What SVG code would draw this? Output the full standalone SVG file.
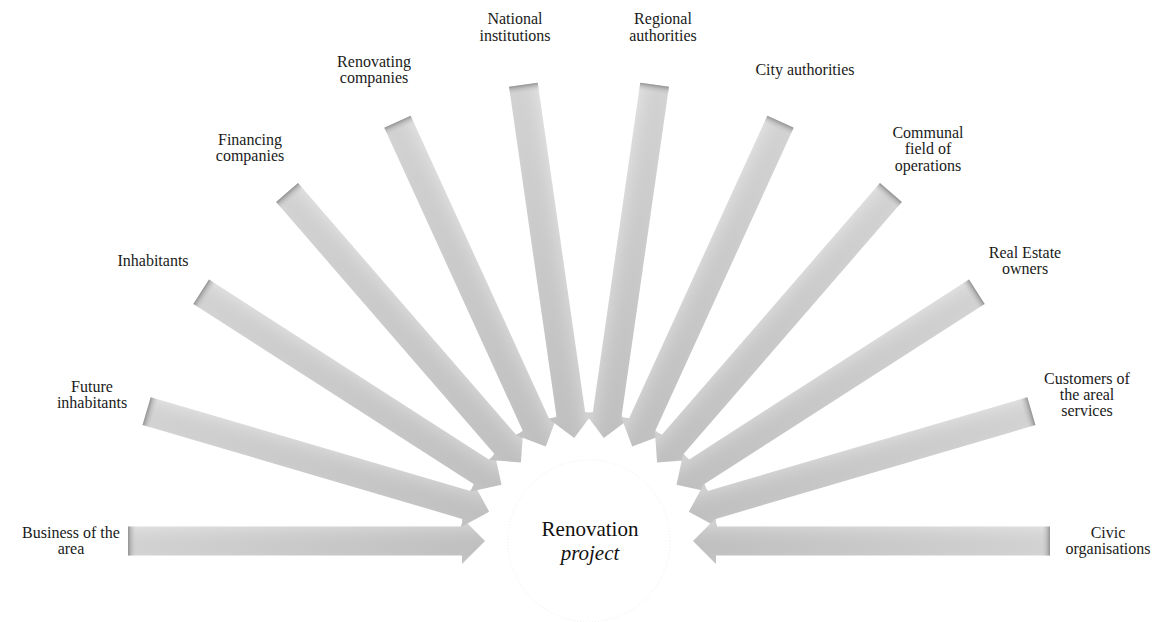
<svg xmlns="http://www.w3.org/2000/svg" width="1161" height="622" viewBox="0 0 1161 622">
  <style>
    .label { font-family: "Liberation Serif", "Times New Roman", serif; font-size: 16px; fill: #1a1a1a; text-anchor: middle; }
    .hub-text { font-family: "Liberation Serif", "Times New Roman", serif; font-size: 21px; fill: #111; text-anchor: middle; }
    .bubble { fill: #ffffff; stroke: none; }
    .hub { fill: #ffffff; stroke: #efefef; stroke-width: 1; stroke-dasharray: 1 2; }
  </style>
  <defs>
    <!-- lengthwise shade: lighter at the tail, darker toward the hub -->
    <linearGradient id="arrowBody" gradientUnits="userSpaceOnUse" x1="-461" y1="0" x2="-104" y2="0">
      <stop offset="0" stop-color="#dbdbdb"/>
      <stop offset="1" stop-color="#c7c7c7"/>
    </linearGradient>
    <!-- cross shade over the width of the shaft -->
    <linearGradient id="arrowSide" gradientUnits="userSpaceOnUse" x1="0" y1="-15" x2="0" y2="15">
      <stop offset="0" stop-color="#ffffff" stop-opacity="0.14"/>
      <stop offset="1" stop-color="#000000" stop-opacity="0.03"/>
    </linearGradient>
    <!-- shadow cast on the tail end -->
    <linearGradient id="tailShade" gradientUnits="userSpaceOnUse" x1="-461" y1="0" x2="-453" y2="0">
      <stop offset="0" stop-color="#808080" stop-opacity="0.8"/>
      <stop offset="0.45" stop-color="#a0a0a0" stop-opacity="0.4"/>
      <stop offset="1" stop-color="#c0c0c0" stop-opacity="0"/>
    </linearGradient>
    <!-- block arrow in a hub-centred frame: tail at r=461, tip at r=104, pointing +x -->
    <g id="arrow">
      <path d="M -461,-14.5 L -127,-14.5 L -127,-23 L -104,0 L -127,23 L -127,14.5 L -461,14.5 Z" fill="url(#arrowBody)"/>
      <path d="M -461,-14.5 L -127,-14.5 L -127,-23 L -104,0 L -127,23 L -127,14.5 L -461,14.5 Z" fill="url(#arrowSide)"/>
      <rect x="-461" y="-14.5" width="8" height="29" fill="url(#tailShade)"/>
    </g>
  </defs>

  <rect width="1161" height="622" fill="#ffffff"/>

  <!-- hub -->
  <g id="node-renovation-project">
    <circle class="hub" cx="589" cy="541" r="81"/>
    <text class="hub-text" x="590" y="536">Renovation</text>
    <text class="hub-text" x="590" y="560" font-style="italic">project</text>
  </g>

  <!-- stakeholder bubbles -->
  <g id="node-business">
    <circle class="bubble" cx="71" cy="541" r="71"/>
    <text class="label" x="71" y="538">Business of the</text>
    <text class="label" x="71" y="554">area</text>
  </g>
  <g id="node-future-inhabitants">
    <circle class="bubble" cx="92" cy="395" r="71"/>
    <text class="label" x="92" y="392">Future</text>
    <text class="label" x="92" y="408">inhabitants</text>
  </g>
  <g id="node-inhabitants">
    <circle class="bubble" cx="153" cy="261" r="71"/>
    <text class="label" x="153" y="266">Inhabitants</text>
  </g>
  <g id="node-financing">
    <circle class="bubble" cx="250" cy="149.5" r="71"/>
    <text class="label" x="250" y="145">Financing</text>
    <text class="label" x="250" y="161">companies</text>
  </g>
  <g id="node-renovating">
    <circle class="bubble" cx="374" cy="70" r="71"/>
    <text class="label" x="374" y="67">Renovating</text>
    <text class="label" x="374" y="83">companies</text>
  </g>
  <g id="node-national">
    <circle class="bubble" cx="515" cy="28" r="71"/>
    <text class="label" x="515" y="24">National</text>
    <text class="label" x="515" y="41">institutions</text>
  </g>
  <g id="node-regional">
    <circle class="bubble" cx="663" cy="28" r="71"/>
    <text class="label" x="663" y="24">Regional</text>
    <text class="label" x="663" y="41">authorities</text>
  </g>
  <g id="node-city">
    <circle class="bubble" cx="804" cy="70" r="71"/>
    <text class="label" x="805" y="75">City authorities</text>
  </g>
  <g id="node-communal">
    <circle class="bubble" cx="928" cy="149.5" r="71"/>
    <text class="label" x="928" y="138">Communal</text>
    <text class="label" x="928" y="154">field of</text>
    <text class="label" x="928" y="171">operations</text>
  </g>
  <g id="node-real-estate">
    <circle class="bubble" cx="1025" cy="261" r="71"/>
    <text class="label" x="1025" y="258">Real Estate</text>
    <text class="label" x="1025" y="274">owners</text>
  </g>
  <g id="node-customers">
    <circle class="bubble" cx="1086" cy="395" r="71"/>
    <text class="label" x="1087" y="384">Customers of</text>
    <text class="label" x="1087" y="400">the areal</text>
    <text class="label" x="1087" y="416">services</text>
  </g>
  <g id="node-civic">
    <circle class="bubble" cx="1107" cy="541" r="71"/>
    <text class="label" x="1108" y="538">Civic</text>
    <text class="label" x="1108" y="554">organisations</text>
  </g>

  <!-- converging arrows, 180/11 degrees apart -->
  <g id="connectors">
    <use href="#arrow" transform="translate(589 541) rotate(0)"/>
    <use href="#arrow" transform="translate(589 541) rotate(16.3636)"/>
    <use href="#arrow" transform="translate(589 541) rotate(32.7273)"/>
    <use href="#arrow" transform="translate(589 541) rotate(49.0909)"/>
    <use href="#arrow" transform="translate(589 541) rotate(65.4545)"/>
    <use href="#arrow" transform="translate(589 541) rotate(81.8182)"/>
    <use href="#arrow" transform="translate(589 541) rotate(98.1818) scale(1 -1)"/>
    <use href="#arrow" transform="translate(589 541) rotate(114.5455) scale(1 -1)"/>
    <use href="#arrow" transform="translate(589 541) rotate(130.9091) scale(1 -1)"/>
    <use href="#arrow" transform="translate(589 541) rotate(147.2727) scale(1 -1)"/>
    <use href="#arrow" transform="translate(589 541) rotate(163.6364) scale(1 -1)"/>
    <use href="#arrow" transform="translate(589 541) rotate(180) scale(1 -1)"/>
  </g>
</svg>
